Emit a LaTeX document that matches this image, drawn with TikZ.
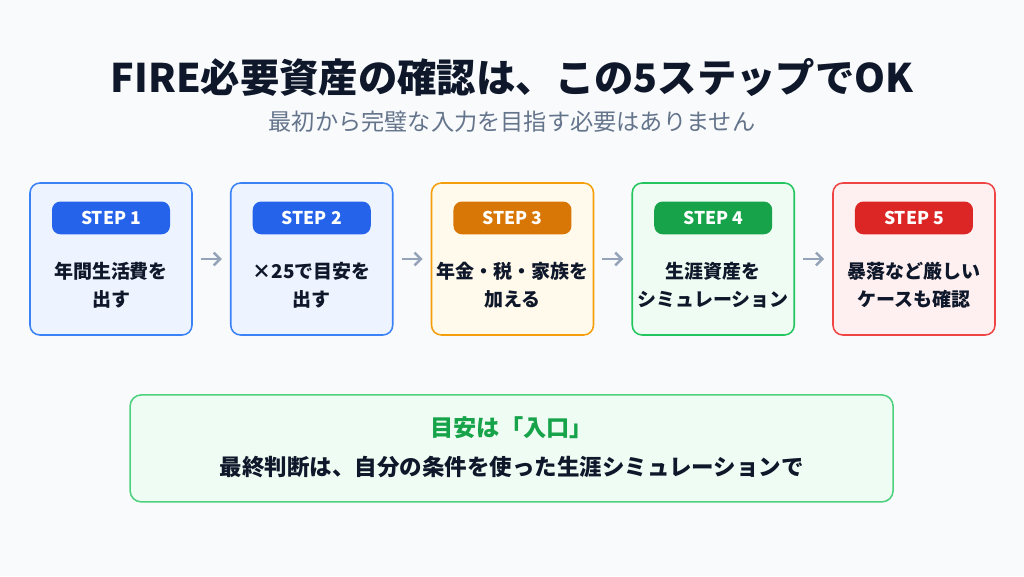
\documentclass[tikz,border=0pt]{standalone}
\usepackage{fontspec}
\setmainfont{Noto Sans CJK JP}
\usepackage{tikz}
\usetikzlibrary{arrows.meta, positioning}
\usepackage{xcolor}
\definecolor{bgcolor}{HTML}{F8FAFC}
\definecolor{inkdark}{HTML}{0F172A}
\definecolor{inkgray}{HTML}{64748B}
\definecolor{arrowgray}{HTML}{94A3B8}
\definecolor{stepblue}{HTML}{2563EB}
\definecolor{edgeblue}{HTML}{3B82F6}
\definecolor{fillblue}{HTML}{EEF4FF}
\definecolor{steporange}{HTML}{D97706}
\definecolor{edgeorange}{HTML}{F59E0B}
\definecolor{fillorange}{HTML}{FFFAEB}
\definecolor{stepgreen}{HTML}{16A34A}
\definecolor{edgegreen}{HTML}{22C55E}
\definecolor{fillgreen}{HTML}{EFFCF3}
\definecolor{stepred}{HTML}{DC2626}
\definecolor{edgered}{HTML}{EF4444}
\definecolor{fillred}{HTML}{FEF0F0}

\begin{document}
\begin{tikzpicture}[
    node distance=0.93cm,
    every node/.style={text=inkdark},
    stepbox/.style={rectangle, draw=edge#1, fill=fill#1, line width=1.1pt, rounded corners=7pt, minimum width=4.05cm, minimum height=3.8cm},
    badge/.style={rectangle, fill=step#1, rounded corners=6pt, minimum width=2.95cm, minimum height=0.82cm, text=white, font=\fontsize{12.5}{14}\selectfont\bfseries},
    body/.style={align=center, font=\fontsize{13.5}{20}\selectfont\bfseries},
    arrow/.style={-{Straight Barb[length=1.6mm, width=3.2mm]}, line width=1.8pt, arrowgray},
]

% Background
\fill[bgcolor] (0,0) rectangle (25.6,-14.4);

% Heading
\node[font=\fontsize{28}{32}\selectfont\bfseries] (title) at (12.8,-1.93) {FIRE必要資産の確認は、この5ステップでOK};
\node[font=\fontsize{16.5}{20}\selectfont, text=inkgray] (subtitle) at (12.8,-3.05) {最初から完璧な入力を目指す必要はありません};

% Steps
\node[stepbox=blue] (step1) at (2.775,-6.475) {};
\node[stepbox=blue, right=of step1] (step2) {};
\node[stepbox=orange, right=of step2] (step3) {};
\node[stepbox=green, right=of step3] (step4) {};
\node[stepbox=red, right=of step4] (step5) {};

% Badges
\node[badge=blue, below=0.475cm of step1.north] (badge1) {STEP 1};
\node[badge=blue, below=0.475cm of step2.north] (badge2) {STEP 2};
\node[badge=orange, below=0.475cm of step3.north] (badge3) {STEP 3};
\node[badge=green, below=0.475cm of step4.north] (badge4) {STEP 4};
\node[badge=red, below=0.475cm of step5.north] (badge5) {STEP 5};

% Texts
\node[body] (text1) at ([yshift=-0.65cm]step1.center) {年間生活費を\\出す};
\node[body] (text2) at ([yshift=-0.65cm]step2.center) {×25で目安を\\出す};
\node[body] (text3) at ([yshift=-0.65cm]step3.center) {年金・税・家族を\\加える};
\node[body] (text4) at ([yshift=-0.65cm]step4.center) {生涯資産を\\シミュレーション};
\node[body] (text5) at ([yshift=-0.65cm]step5.center) {暴落など厳しい\\ケースも確認};

% Arrows
\draw[arrow] ([xshift=0.2cm]step1.east) -- ([xshift=-0.2cm]step2.west);
\draw[arrow] ([xshift=0.2cm]step2.east) -- ([xshift=-0.2cm]step3.west);
\draw[arrow] ([xshift=0.2cm]step3.east) -- ([xshift=-0.2cm]step4.west);
\draw[arrow] ([xshift=0.2cm]step4.east) -- ([xshift=-0.2cm]step5.west);

% Note
\node[rectangle, draw=edgegreen!80, fill=fillgreen, line width=1.1pt, rounded corners=8pt, minimum width=19.075cm, minimum height=2.675cm] (note) at (12.79,-11.21) {};
\node[font=\fontsize{16.5}{20}\selectfont\bfseries, text=stepgreen] (notehead) at (12.79,-10.68) {目安は「入口」};
\node[font=\fontsize{16}{20}\selectfont\bfseries] (notebody) at (12.79,-11.68) {最終判断は、自分の条件を使った生涯シミュレーションで};

\end{tikzpicture}
\end{document}
